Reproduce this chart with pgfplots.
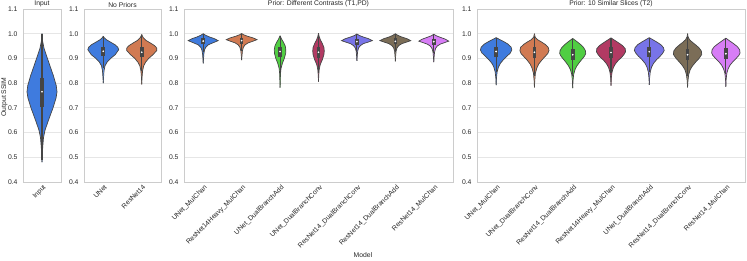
\documentclass[border=0pt]{standalone}
\usepackage{fontspec}
\setmainfont{Liberation Sans}
\usepackage{pgfplots}
\usepackage{pgfplotstable}
\pgfplotsset{compat=1.18}

\definecolor{cblue}{HTML}{3F7BDE}
\definecolor{corange}{HTML}{D17A52}
\definecolor{cgreen}{HTML}{50CE42}
\definecolor{ccrimson}{HTML}{B23A63}
\definecolor{cpurple}{HTML}{7874E8}
\definecolor{colive}{HTML}{7B6D57}
\definecolor{cpink}{HTML}{D77DF6}
\definecolor{vgray}{HTML}{454545}
\definecolor{gridc}{HTML}{E6E6E6}
\definecolor{framec}{HTML}{CCCCCC}
\definecolor{txt}{HTML}{262626}

\newcommand{\fs}{\fontsize{6.8}{8}\selectfont}

% ---------- violin outlines: y, half-width (category units) ----------
\pgfplotstableread{
y w
0.480 0
0.500 0.008
0.540 0.018
0.580 0.04
0.610 0.08
0.650 0.17
0.700 0.29
0.740 0.37
0.765 0.395
0.790 0.375
0.830 0.30
0.870 0.21
0.910 0.12
0.940 0.055
0.970 0.015
1.000 0
}\tInput

\pgfplotstableread{
y w
0.800 0
0.820 0.006
0.850 0.02
0.870 0.045
0.885 0.10
0.900 0.19
0.915 0.31
0.935 0.40
0.945 0.38
0.955 0.31
0.965 0.20
0.975 0.09
0.983 0.03
0.990 0
}\tNPa

\pgfplotstableread{
y w
0.795 0
0.820 0.006
0.850 0.022
0.870 0.05
0.885 0.10
0.900 0.18
0.915 0.29
0.932 0.39
0.942 0.39
0.952 0.33
0.962 0.23
0.972 0.12
0.985 0.035
0.997 0
}\tNPb

\pgfplotstableread{
y w
0.880 0
0.900 0.008
0.920 0.018
0.935 0.035
0.945 0.065
0.955 0.13
0.963 0.25
0.972 0.39
0.980 0.29
0.987 0.16
0.994 0.06
1.000 0
}\tCa

\pgfplotstableread{
y w
0.893 0
0.910 0.008
0.930 0.02
0.945 0.045
0.955 0.09
0.963 0.17
0.970 0.30
0.976 0.40
0.983 0.30
0.990 0.15
0.996 0.05
1.001 0
}\tCb

\pgfplotstableread{
y w
0.782 0
0.810 0.005
0.840 0.012
0.860 0.025
0.880 0.06
0.900 0.11
0.920 0.145
0.935 0.15
0.950 0.135
0.965 0.09
0.978 0.04
0.992 0
}\tCc

\pgfplotstableread{
y w
0.806 0
0.830 0.006
0.855 0.018
0.875 0.045
0.895 0.10
0.915 0.14
0.930 0.15
0.945 0.14
0.960 0.10
0.975 0.05
0.990 0.015
1.002 0
}\tCd

\pgfplotstableread{
y w
0.890 0
0.910 0.008
0.930 0.02
0.943 0.045
0.952 0.09
0.960 0.17
0.966 0.29
0.972 0.40
0.980 0.30
0.987 0.16
0.993 0.06
0.999 0
}\tCe

\pgfplotstableread{
y w
0.888 0
0.910 0.008
0.930 0.02
0.943 0.045
0.952 0.09
0.960 0.17
0.966 0.29
0.972 0.40
0.980 0.30
0.987 0.16
0.994 0.06
1.000 0
}\tCf

\pgfplotstableread{
y w
0.885 0
0.905 0.008
0.925 0.02
0.940 0.045
0.950 0.09
0.958 0.17
0.964 0.28
0.970 0.39
0.978 0.30
0.986 0.16
0.992 0.06
0.998 0
}\tCg

\pgfplotstableread{
y w
0.792 0
0.820 0.008
0.845 0.025
0.865 0.06
0.880 0.11
0.895 0.19
0.910 0.29
0.922 0.37
0.934 0.41
0.946 0.39
0.958 0.31
0.968 0.20
0.976 0.10
0.984 0
}\tSa

\pgfplotstableread{
y w
0.783 0
0.810 0.008
0.840 0.025
0.860 0.06
0.877 0.11
0.893 0.19
0.908 0.28
0.920 0.35
0.932 0.38
0.945 0.36
0.957 0.28
0.967 0.18
0.976 0.08
0.986 0.02
1.000 0
}\tSb

\pgfplotstableread{
y w
0.780 0
0.810 0.008
0.835 0.025
0.855 0.06
0.870 0.11
0.885 0.18
0.900 0.26
0.910 0.31
0.920 0.34
0.932 0.33
0.945 0.28
0.957 0.20
0.967 0.12
0.975 0.05
0.981 0
}\tSc

\pgfplotstableread{
y w
0.790 0
0.820 0.008
0.845 0.028
0.862 0.06
0.877 0.11
0.892 0.19
0.905 0.28
0.916 0.34
0.927 0.38
0.940 0.37
0.952 0.30
0.963 0.20
0.973 0.10
0.983 0
}\tSd

\pgfplotstableread{
y w
0.793 0
0.820 0.008
0.845 0.025
0.865 0.06
0.880 0.11
0.895 0.19
0.910 0.29
0.921 0.35
0.932 0.39
0.944 0.37
0.956 0.30
0.967 0.19
0.976 0.09
0.984 0
}\tSe

\pgfplotstableread{
y w
0.783 0
0.810 0.01
0.835 0.03
0.855 0.07
0.870 0.13
0.885 0.21
0.900 0.30
0.916 0.37
0.930 0.36
0.943 0.30
0.955 0.21
0.966 0.12
0.976 0.05
0.988 0.012
1.000 0
}\tSf

\pgfplotstableread{
y w
0.785 0
0.815 0.008
0.840 0.025
0.858 0.06
0.873 0.11
0.888 0.19
0.902 0.28
0.912 0.34
0.922 0.37
0.935 0.36
0.948 0.30
0.960 0.20
0.971 0.10
0.982 0
}\tSg

% #1 centre, #2 colour, #3 table, #4 whisker low, #5 q1, #6 median, #7 q3, #8 whisker high
\newcommand{\violin}[8]{%
  \addplot[fill=#2, draw=vgray, line width=0.7pt] table[x expr=#1+\thisrow{w}, y=y]{#3};
  \addplot[fill=#2, draw=vgray, line width=0.7pt] table[x expr=#1-\thisrow{w}, y=y]{#3};
  \addplot[draw=vgray, line width=1.1pt] coordinates {(#1,#4) (#1,#8)};
  \addplot[draw=vgray, line width=3.6pt] coordinates {(#1,#5) (#1,#7)};
  \addplot[only marks, mark=*, mark size=0.65pt, draw=white, fill=white] coordinates {(#1,#6)};
}

\pgfplotsset{
  every axis title shift=0pt,
  vio/.style={
    scale only axis, height=173pt, anchor=south west,
    ymin=0.4, ymax=1.1,
    ytick={0.4,0.5,0.6,0.7,0.8,0.9,1.0,1.1},
    /pgf/number format/fixed,
    /pgf/number format/fixed zerofill,
    /pgf/number format/precision=1,
    /pgf/number format/assume math mode=true,
    ymajorgrids, grid style={draw=gridc, line width=0.8pt},
    axis line style={draw=framec, line width=0.8pt},
    major tick length=0pt,
    ticklabel style={font=\fs, text=txt},
    yticklabel style={xshift=-2pt},
    x tick label style={rotate=45, anchor=north east, inner sep=1pt, yshift=-1pt},
    title style={font=\fs, text=txt, at={(0.5,1)}, anchor=south, yshift=0pt, inner sep=1.5pt},
    clip=false,
  }
}

\begin{document}
\begin{tikzpicture}
\path[use as bounding box] (0,0) rectangle (747pt,260pt);

\begin{axis}[vio, at={(23pt,78pt)}, width=38pt, xmin=-0.5, xmax=0.5,
  xtick={0}, xticklabels={Input}, title={Input}]
\violin{0}{cblue}{\tInput}{0.49}{0.705}{0.765}{0.822}{1.0}
\end{axis}

\begin{axis}[vio, at={(84pt,78pt)}, width=77pt, xmin=-0.5, xmax=1.5,
  xtick={0,1}, xticklabels={UNet,ResNet14}, title={No Priors}]
\violin{0}{cblue}{\tNPa}{0.86}{0.910}{0.929}{0.945}{0.99}
\violin{1}{corange}{\tNPb}{0.85}{0.905}{0.925}{0.945}{0.995}
\end{axis}

\begin{axis}[vio, at={(184pt,78pt)}, width=269pt, xmin=-0.5, xmax=6.5,
  xtick={0,...,6},
  xticklabels={UNet\_MulChan,ResNet14Heavy\_MulChan,UNet\_DualBranchAdd,UNet\_DualBranchConv,ResNet14\_DualBranchConv,ResNet14\_DualBranchAdd,ResNet14\_MulChan},
  title={Prior: Different Contrasts (T1,PD)}]
\violin{0}{cblue}{\tCa}{0.925}{0.958}{0.970}{0.982}{1.0}
\violin{1}{corange}{\tCb}{0.93}{0.960}{0.972}{0.984}{1.0}
\violin{2}{cgreen}{\tCc}{0.84}{0.905}{0.928}{0.948}{0.99}
\violin{3}{ccrimson}{\tCd}{0.84}{0.900}{0.925}{0.948}{0.995}
\violin{4}{cpurple}{\tCe}{0.925}{0.955}{0.968}{0.980}{0.998}
\violin{5}{colive}{\tCf}{0.925}{0.957}{0.969}{0.981}{1.0}
\violin{6}{cpink}{\tCg}{0.92}{0.955}{0.968}{0.980}{0.998}
\end{axis}

\begin{axis}[vio, at={(477pt,78pt)}, width=268pt, xmin=-0.5, xmax=6.5,
  xtick={0,...,6},
  xticklabels={UNet\_MulChan,UNet\_DualBranchConv,ResNet14\_DualBranchAdd,ResNet14Heavy\_MulChan,UNet\_DualBranchAdd,ResNet14\_DualBranchConv,ResNet14\_MulChan},
  title={Prior: 10 Similar Slices (T2)}]
\violin{0}{cblue}{\tSa}{0.845}{0.905}{0.928}{0.948}{0.984}
\violin{1}{corange}{\tSb}{0.83}{0.900}{0.925}{0.947}{0.99}
\violin{2}{cgreen}{\tSc}{0.83}{0.895}{0.915}{0.938}{0.98}
\violin{3}{ccrimson}{\tSd}{0.84}{0.902}{0.924}{0.945}{0.982}
\violin{4}{cpurple}{\tSe}{0.845}{0.905}{0.927}{0.947}{0.984}
\violin{5}{colive}{\tSf}{0.83}{0.893}{0.915}{0.937}{0.99}
\violin{6}{cpink}{\tSg}{0.835}{0.898}{0.919}{0.942}{0.982}
\end{axis}

\node[font=\fs, text=txt, rotate=90] at (4.5pt,163pt) {Output SSIM};
\node[font=\fs, text=txt] at (363pt,4.5pt) {Model};
\end{tikzpicture}
\end{document}
